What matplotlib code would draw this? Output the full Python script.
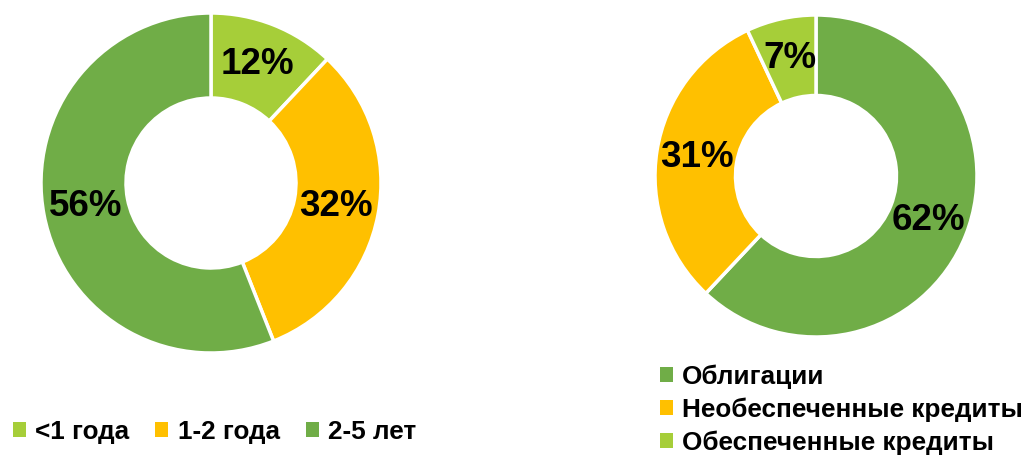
import matplotlib
matplotlib.use("Agg")
import matplotlib.pyplot as plt

plt.rcParams['font.family'] = ['Liberation Sans', 'DejaVu Sans']
plt.rcParams['font.weight'] = 'bold'

# Data
left_labels = ["<1 года", "1-2 года", "2-5 лет"]
left_values = [12, 32, 56]
right_labels = ["Облигации", "Необеспеченные кредиты", "Обеспеченные кредиты"]
right_values = [62, 31, 7]

LIGHT = "#A6CE39"
YELLOW = "#FFC000"
GREEN = "#70AD47"
left_colors = [LIGHT, YELLOW, GREEN]
right_colors = [GREEN, YELLOW, LIGHT]

W, H = 1026, 455
fig = plt.figure(figsize=(W / 100, H / 100), dpi=100)


def px_axes(cx, cy, r):
    return fig.add_axes([(cx - r) / W, (H - cy - r) / H, 2 * r / W, 2 * r / H])


def donut(ax, values, colors):
    wedges, _, autotexts = ax.pie(
        values, colors=colors, startangle=90, counterclock=False,
        radius=1.0, autopct=lambda p: f"{p:.0f}%", pctdistance=0.75,
        wedgeprops=dict(width=0.5, edgecolor="white", linewidth=2.5),
        textprops=dict(fontsize=26.5, fontweight="bold", color="black"))
    ax.set_xlim(-1, 1)
    ax.set_ylim(-1, 1)
    ax.set_aspect("equal")
    ax.axis("off")
    return wedges


ax1 = px_axes(211, 183, 170)
w1 = donut(ax1, left_values, left_colors)
ax2 = px_axes(816, 176, 161)
w2 = donut(ax2, right_values, right_colors)

leg1 = fig.legend(w1, left_labels, loc="center left", bbox_to_anchor=(13 / W, 1 - 432 / H),
                  ncol=3, frameon=False, prop=dict(size=18.8, weight="bold"),
                  borderpad=0, borderaxespad=0,
                  handlelength=0.5, handleheight=0.5, handletextpad=0.35, columnspacing=1.0)
leg2 = fig.legend(w2, right_labels, loc="center left", bbox_to_anchor=(660 / W, 1 - 409.5 / H),
                  ncol=1, frameon=False, prop=dict(size=18.8, weight="bold"),
                  borderpad=0, borderaxespad=0,
                  handlelength=0.5, handleheight=0.5, handletextpad=0.35, labelspacing=0.33)
for leg in (leg1, leg2):
    for h in leg.legend_handles:
        h.set_edgecolor("none")

fig.savefig("out.png", dpi=100, facecolor="white")
